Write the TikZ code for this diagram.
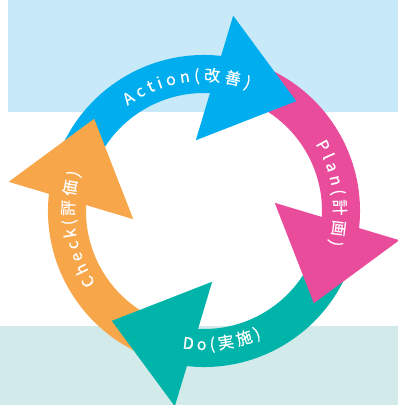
\documentclass[tikz,border=0pt]{standalone}
\usepackage{fontspec}
\setmainfont{Noto Sans CJK JP}
\newfontfamily\capface[FakeBold=0.6]{Noto Sans CJK JP}
\usetikzlibrary{decorations.text}
\definecolor{actcol}{RGB}{0,174,239}
\definecolor{plancol}{RGB}{234,76,156}
\definecolor{docol}{RGB}{0,180,170}
\definecolor{checkcol}{RGB}{247,166,74}
\definecolor{skyband}{RGB}{200,233,247}
\definecolor{seaband}{RGB}{211,234,234}
\newcommand\capfont{\capface\fontsize{16}{16}\selectfont\color{white}}
\tikzset{arctext/.style={decorate,decoration={text along path,text align=fit to path,text={|\capfont|#1}}}}

\begin{document}
\begin{tikzpicture}[x=1pt,y=1pt]
	    \useasboundingbox (-204,-194) rectangle (194,211);
	    \fill[skyband] (-196,99.3) rectangle (194,211);
	    \fill[seaband] (-204,-194) rectangle (194,-114.7);
	    \coordinate (hub) at (0,0);
	    \foreach \r/\c in {0/actcol, -90/plancol, -180/docol, 90/checkcol}
		\fill[\c,rotate=\r] (170:156) arc[start angle=170,end angle=80,radius=156]
		    -- (80:118) arc[start angle=80,end angle=170,radius=118] -- cycle;
	    \foreach \r/\c in {0/actcol, -90/plancol, -180/docol, 90/checkcol}
		\fill[\c,rotate=\r] (81.5:197.5) -- (50:143.4) -- (96.6:71.2) -- cycle;
	    \path[arctext=Action(改善)] (126:130) arc[start angle=126,end angle=70,radius=130];
	    \path[arctext=Plan(計画)] (31:130) arc[start angle=31,end angle=-15,radius=130];
	    \path[arctext=Check(評価)] (213.6:130) arc[start angle=213.6,end angle=162.8,radius=130];
	    \path[arctext=Do(実施)] (-99:139) arc[start angle=-99,end angle=-65.5,radius=139];
        \end{tikzpicture}
\end{document}
